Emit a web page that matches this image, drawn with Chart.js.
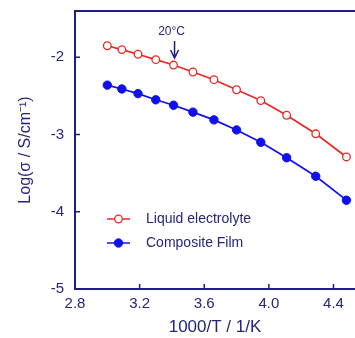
<!DOCTYPE html>
<html>
<head>
<meta charset="utf-8">
<script src="https://cdn.jsdelivr.net/npm/chart.js@4.4.0/dist/chart.umd.min.js"></script>
<style>
  html, body { margin: 0; padding: 0; background: #fff; overflow: hidden; }
  #wrap { width: 355px; height: 338px; }
</style>
</head>
<body>
<div id="wrap"><canvas id="c"></canvas></div>
<script>
// 1000/T values (60°C down to -50°C)
const invT = [3.00, 3.09, 3.19, 3.30, 3.41, 3.53, 3.66, 3.80, 3.95, 4.11, 4.29, 4.48];
const liquid = [-1.85, -1.90, -1.96, -2.03, -2.10, -2.19, -2.29, -2.42, -2.56, -2.75, -2.99, -3.29];
const composite = [-2.36, -2.41, -2.47, -2.55, -2.62, -2.71, -2.81, -2.94, -3.10, -3.30, -3.54, -3.85];
const seriesNames = ["Liquid electrolyte", "Composite Film"];
const xTicks = [2.8, 3.2, 3.6, 4.0, 4.4];
const yTicks = [-5, -4, -3, -2];
const markX = 3.41; // 20°C
const markLabel = "20°C";

const navy = "#1e1e86";
const textCol = "#25257c";
const red = "#e62a22";
const blue = "#1010ec";
const font = "Arial, 'Liberation Sans', sans-serif";

const toXY = (ys) => invT.map((x, i) => ({ x: x, y: ys[i] }));

// rahmen, innenliegende ticks, legende, pfeil
const decor = {
  id: "decor",
  afterDraw(chart) {
    const { ctx, chartArea: a, scales: { x, y } } = chart;
    ctx.save();
    ctx.strokeStyle = navy;
    ctx.lineWidth = 2;
    ctx.beginPath();
    ctx.moveTo(a.left - 1, a.top);
    ctx.lineTo(a.right, a.top);
    ctx.stroke();

    ctx.lineWidth = 1.5;
    ctx.beginPath();
    xTicks.forEach(v => {
      const px = x.getPixelForValue(v);
      ctx.moveTo(px, a.bottom);
      ctx.lineTo(px, a.bottom - 5);
    });
    yTicks.forEach(v => {
      const py = y.getPixelForValue(v);
      ctx.moveTo(a.left, py);
      ctx.lineTo(a.left + 5, py);
    });
    ctx.stroke();

    // legende
    chart.data.datasets.forEach((ds, i) => {
      const ly = a.top + 208 + i * 24;
      const lx = a.left + 32;
      ctx.strokeStyle = ds.borderColor;
      ctx.lineWidth = 1.5;
      ctx.beginPath();
      ctx.moveTo(lx, ly);
      ctx.lineTo(lx + 23, ly);
      ctx.stroke();
      ctx.beginPath();
      ctx.arc(lx + 11.5, ly, ds.pointRadius, 0, Math.PI * 2);
      ctx.fillStyle = ds.pointBackgroundColor;
      ctx.fill();
      ctx.lineWidth = ds.pointBorderWidth;
      ctx.stroke();
      ctx.fillStyle = textCol;
      ctx.font = "14px " + font;
      ctx.textBaseline = "middle";
      ctx.textAlign = "left";
      ctx.fillText(ds.label, lx + 39, ly);
    });

    // 20°C pfeil
    const ax = x.getPixelForValue(markX) + 1;
    ctx.fillStyle = textCol;
    ctx.font = "12px " + font;
    ctx.textAlign = "center";
    ctx.textBaseline = "middle";
    ctx.fillText(markLabel, ax - 3, a.top + 21);
    ctx.strokeStyle = navy;
    ctx.lineWidth = 1.5;
    ctx.beginPath();
    ctx.moveTo(ax, a.top + 30);
    ctx.lineTo(ax, a.top + 47);
    ctx.moveTo(ax - 4, a.top + 39);
    ctx.lineTo(ax, a.top + 47);
    ctx.lineTo(ax + 4, a.top + 39);
    ctx.stroke();
    ctx.restore();
  }
};

new Chart(document.getElementById("c"), {
  type: "line",
  data: {
    datasets: [
      {
        label: seriesNames[0],
        data: toXY(liquid),
        borderColor: red,
        borderWidth: 1.7,
        pointRadius: 3.8,
        pointBorderWidth: 1.3,
        pointBackgroundColor: "#fff",
        pointBorderColor: red,
        tension: 0,
        clip: false
      },
      {
        label: seriesNames[1],
        data: toXY(composite),
        borderColor: blue,
        borderWidth: 1.7,
        pointRadius: 4.2,
        pointBorderWidth: 1,
        pointBackgroundColor: blue,
        pointBorderColor: blue,
        tension: 0,
        clip: false
      }
    ]
  },
  options: {
    responsive: true,
    maintainAspectRatio: false,
    animation: false,
    layout: { autoPadding: false, padding: { top: 11, right: 0, left: 0, bottom: 0 } },
    plugins: { legend: { display: false }, tooltip: { enabled: false } },
    scales: {
      x: {
        type: "linear",
        min: 2.8,
        max: 4.533,
        afterBuildTicks: s => { s.ticks = xTicks.map(v => ({ value: v })); },
        afterFit: s => { s.height = 49; s.paddingLeft = 0; s.paddingRight = 0; },
        grid: { drawOnChartArea: false, drawTicks: false },
        border: { color: navy, width: 2 },
        ticks: {
          color: textCol,
          padding: 6,
          font: { family: font, size: 15 },
          callback: v => v.toFixed(1)
        },
        title: {
          display: true,
          text: "1000/T / 1/K",
          color: textCol,
          font: { family: font, size: 17 },
          padding: { top: 0, bottom: 0 }
        }
      },
      y: {
        min: -5,
        max: -1.4,
        afterBuildTicks: s => { s.ticks = yTicks.map(v => ({ value: v })); },
        afterFit: s => { s.width = 75; s.paddingTop = 0; s.paddingBottom = 0; },
        grid: { drawOnChartArea: false, drawTicks: false },
        border: { color: navy, width: 2 },
        ticks: {
          color: textCol,
          padding: 11,
          font: { family: font, size: 15 },
          callback: v => String(v)
        },
        title: {
          display: true,
          text: "Log(σ / S/cm⁻¹)",
          color: textCol,
          font: { family: font, size: 16 },
          padding: { top: 16, bottom: 0 }
        }
      }
    }
  },
  plugins: [decor]
});
</script>
</body>
</html>
